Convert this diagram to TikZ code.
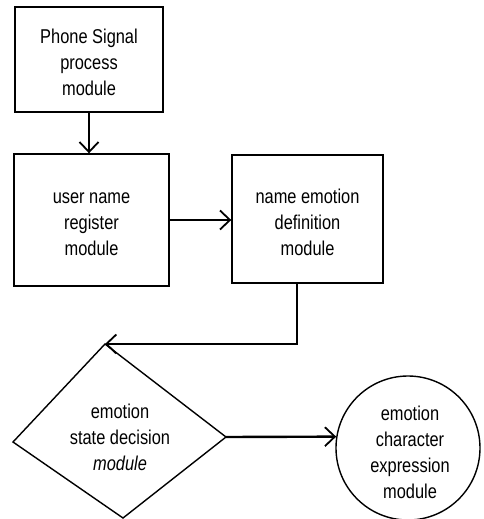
\documentclass[tikz,border=0pt]{standalone}
\usepackage{fontspec}
\setmainfont{Liberation Sans}[FakeStretch=0.82]
\usetikzlibrary{arrows.meta}

\begin{document}
\begin{tikzpicture}[x=1pt, y=-1pt,
  label/.style={font=\fontsize{20}{26}\selectfont, align=center, inner sep=0pt},
  modbox/.style={draw, line width=1.4pt},
  flow/.style={line width=2.4pt,
    -{Straight Barb[length=10pt, width=19pt, line width=1.8pt]}}
]
\useasboundingbox (0,0) rectangle (484,519);

% processing modules
\node[modbox, minimum width=148pt, minimum height=105pt] (phone) at (89,59.5) {};
\node[label] (phonetxt) at ([yshift=-3pt]phone.center) {Phone Signal\\process\\module};
\node[modbox, minimum width=155pt, minimum height=132pt] (user) at (91.5,220) {};
\node[label] (usertxt) at ([yshift=-4pt]user.center) {user name\\register\\module};
\node[modbox, minimum width=151pt, minimum height=128pt] (name) at (307.5,219) {};
\node[label] (nametxt) at ([yshift=-3pt]name.center) {name emotion\\definition\\module};

% decision diamond
\coordinate (dt) at (105,344);
\coordinate (dr) at (226,437);
\coordinate (db) at (123,518);
\coordinate (dl) at (13,442);
\draw[line width=1.4pt, line join=miter] (dt) -- (dr) -- (db) -- (dl) -- cycle;
\node[label] (decide) at (120,437)
  {emotion\\state decision\\\textit{module}};

% expression module
\node[draw, circle, line width=1.4pt, minimum size=144pt] (expr) at (408,448) {};
\node[label] (exprtxt) at (410,452) {emotion\\character\\expression\\module};

% connectors
\coordinate (bend) at (297,344);
\draw[flow] (phone.south) -- (phone.south |- user.north);
\draw[flow] (user.east) -- (user.east -| name.west);
\draw[flow, line join=miter] (bend |- name.south) -- (bend) -- (dt);
\draw[flow] (dr) -- (expr.171);
\end{tikzpicture}
\end{document}
